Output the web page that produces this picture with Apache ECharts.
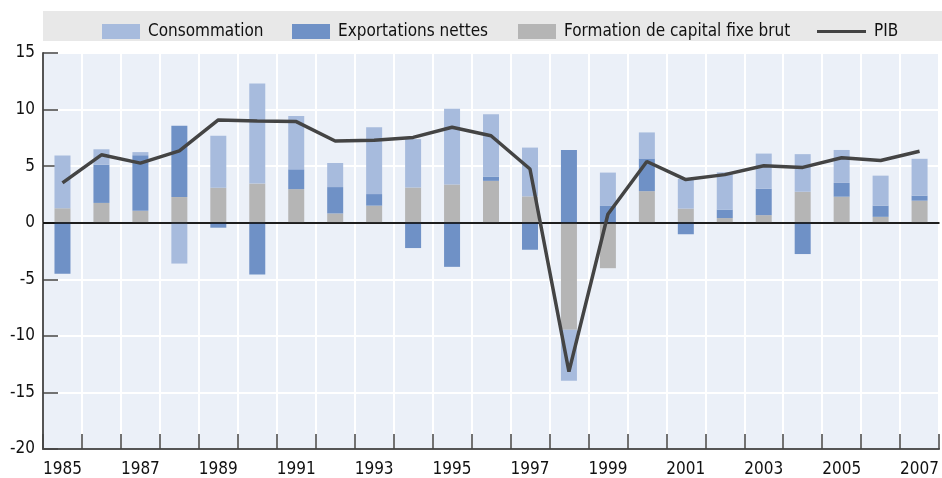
<!DOCTYPE html>
<html>
<head>
<meta charset="utf-8">
<script src="https://cdn.jsdelivr.net/npm/echarts@6/dist/echarts.min.js"></script>
<style>
  html, body { margin: 0; padding: 0; background: #ffffff; }
  #chart { width: 942px; height: 478px; }
</style>
</head>
<body>
<div id="chart"></div>
<script>
// données (points de %)
var years = ['1985', '1986', '1987', '1988', '1989', '1990', '1991', '1992', '1993', '1994', '1995', '1996',
  '1997', '1998', '1999', '2000', '2001', '2002', '2003', '2004', '2005', '2006', '2007']
var formation = [1.28, 1.75, 1.05, 2.27, 3.09, 3.46, 2.97, 0.82, 1.51, 3.11, 3.38, 3.70,
  2.33, -9.46, -4.02, 2.79, 1.25, 0.41, 0.67, 2.74, 2.30, 0.52, 1.95]
var exportations = [-4.51, 3.37, 4.92, 6.29, -0.44, -4.57, 1.75, 2.33, 1.02, -2.24, -3.90, 0.38,
  -2.39, 6.43, 1.48, 2.89, -1.02, 0.75, 2.33, -2.77, 1.22, 0.99, 0.44]
var consommation = [4.66, 1.37, 0.27, -3.61, 4.60, 8.85, 4.71, 2.13, 5.91, 4.28, 6.69, 5.50,
  4.31, -4.51, 2.95, 2.30, 2.62, 3.29, 3.11, 3.32, 2.91, 2.65, 3.26]
var pib = [3.52, 6.0, 5.27, 6.35, 9.08, 9.0, 8.94, 7.22, 7.28, 7.54, 8.44, 7.69,
  4.75, -13.16, 0.75, 5.41, 3.81, 4.25, 5.04, 4.89, 5.74, 5.5, 6.32]

var FONT = "'DejaVu Sans Condensed', 'Liberation Sans Narrow', sans-serif"
var colCons = '#A7BBDD'
var colExp = '#6F91C6'
var colForm = '#B5B5B5'
var colPib = '#444444'

var myChart = echarts.init(document.getElementById('chart'))

function legendAt (left, name, opts) {
  var l = {
    left: left,
    top: 18,
    data: [name],
    itemWidth: 38,
    itemHeight: 15,
    icon: 'rect',
    selectedMode: false,
    textStyle: { fontFamily: FONT, fontSize: 17, color: '#111', padding: [0, 0, 0, 3] }
  }
  return Object.assign(l, opts || {})
}

var option = {
  animation: false,
  textStyle: { fontFamily: FONT },
  graphic: [{
    type: 'rect',
    shape: { x: 43, y: 11, width: 899, height: 30 },
    style: { fill: '#E8E8E8' },
    z: -10
  }],
  legend: [
    legendAt(97, 'Consommation'),
    legendAt(287, 'Exportations nettes'),
    legendAt(513, 'Formation de capital fixe brut'),
    // trait fin centré dans une boîte 49x15
    legendAt(812, 'PIB', {
      itemWidth: 49,
      icon: 'path://M0,0 L0.01,0 Z M0,6 L49,6 L49,9 L0,9 Z M49,15 L48.99,15 Z'
    })
  ],
  grid: {
    left: 43,
    right: 2,
    top: 53,
    bottom: 29,
    show: true,
    backgroundColor: '#EBF0F8',
    borderWidth: 0
  },
  xAxis: [{
    type: 'category',
    data: years,
    boundaryGap: true,
    axisLine: { onZero: false, lineStyle: { color: '#555', width: 2 } },
    axisTick: { show: true, inside: true, length: 15, interval: 0, lineStyle: { color: '#444', width: 1.5 } },
    axisLabel: { interval: 1, margin: 12, fontSize: 17, color: '#111', fontFamily: FONT },
    splitLine: { show: true, interval: 0, lineStyle: { color: '#ffffff', width: 2 } }
  }, {
    type: 'category',
    data: years,
    position: 'top',
    axisLine: { lineStyle: { color: '#777', width: 2 } },
    axisTick: { show: false },
    axisLabel: { show: false },
    splitLine: { show: false }
  }],
  yAxis: {
    type: 'value',
    min: -20,
    max: 15,
    interval: 5,
    axisLine: { show: true, lineStyle: { color: '#555', width: 2 } },
    axisTick: { show: true, inside: true, length: 15, lineStyle: { color: '#444', width: 1.5 } },
    axisLabel: { margin: 8, fontSize: 17, color: '#111', fontFamily: FONT },
    splitLine: { show: true, lineStyle: { color: '#ffffff', width: 2 } }
  },
  series: [
    {
      name: 'Formation de capital fixe brut',
      type: 'bar',
      stack: 'total',
      barWidth: 16,
      data: formation,
      itemStyle: { color: colForm }
    },
    {
      name: 'Exportations nettes',
      type: 'bar',
      stack: 'total',
      barWidth: 16,
      data: exportations,
      itemStyle: { color: colExp }
    },
    {
      name: 'Consommation',
      type: 'bar',
      stack: 'total',
      barWidth: 16,
      data: consommation,
      itemStyle: { color: colCons }
    },
    {
      name: 'PIB',
      type: 'line',
      data: pib,
      symbol: 'none',
      lineStyle: { color: colPib, width: 3.5 },
      itemStyle: { color: colPib },
      z: 5,
      markLine: {
        silent: true,
        symbol: 'none',
        label: { show: false },
        lineStyle: { color: '#000', width: 1.5, type: 'solid' },
        data: [{ yAxis: 0 }]
      }
    }
  ]
}

myChart.setOption(option)
</script>
</body>
</html>
